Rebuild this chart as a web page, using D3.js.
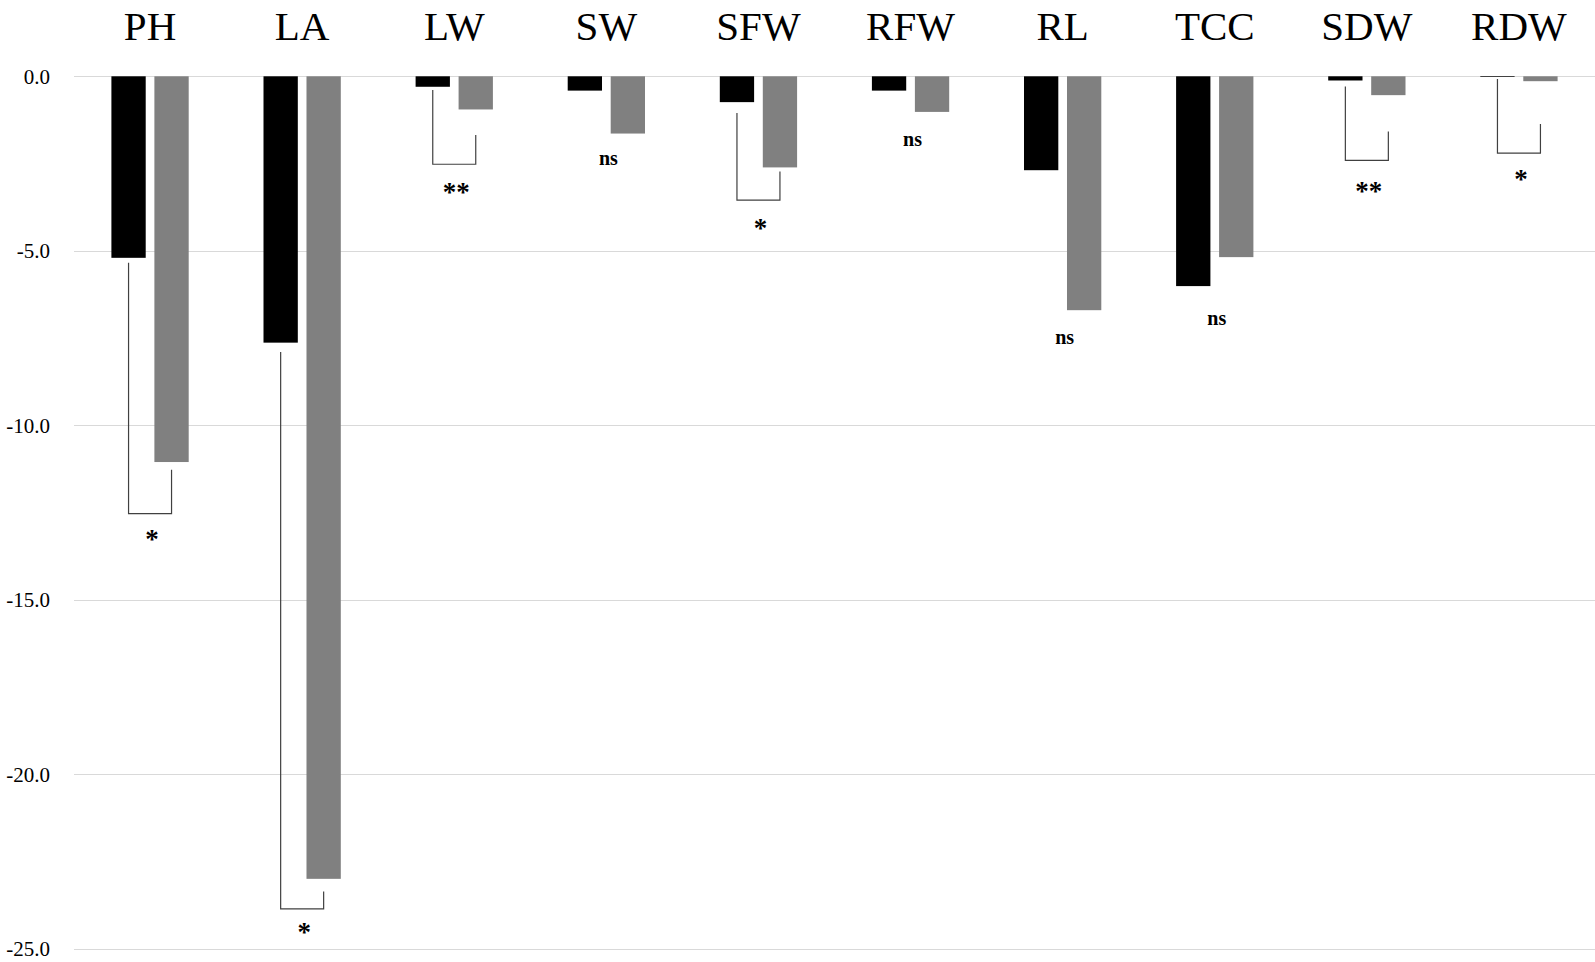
<!DOCTYPE html>
<html>
<head>
<meta charset="utf-8">
<script src="https://cdn.jsdelivr.net/npm/d3@7"></script>
<style>
  html, body { margin: 0; padding: 0; background: #fff; }
  svg { display: block; }
</style>
</head>
<body>
<svg id="chart" width="1595" height="962"></svg>
<script>
// ---- data ----
const categories = ["PH", "LA", "LW", "SW", "SFW", "RFW", "RL", "TCC", "SDW", "RDW"];
const seriesBlack = [-5.20, -7.63, -0.30, -0.41, -0.74, -0.41, -2.69, -6.01, -0.12, -0.02];
const seriesGray  = [-11.05, -22.99, -0.95, -1.64, -2.61, -1.02, -6.70, -5.18, -0.54, -0.14];
const yTicks = [0, -5, -10, -15, -20, -25];
const yTickLabels = ["0.0", "-5.0", "-10.0", "-15.0", "-20.0", "-25.0"];
// significance labels and their vertical placement (data units)
const sigLabels = ["*", "*", "**", "ns", "*", "ns", "ns", "ns", "**", "*"];
const sigLabelY = [-13.39, -24.65, -3.45, -2.53, -4.49, -2.00, -7.68, -7.13, -3.42, -3.08];
// brackets: [category, left leg top, right leg top, bottom] (data units)
const bracketCats   = ["PH", "LA", "LW", "SFW", "SDW", "RDW"];
const bracketLeft   = [-5.34, -7.90, -0.39, -1.05, -0.29, -0.08];
const bracketRight  = [-11.27, -23.35, -1.68, -2.73, -1.58, -1.37];
const bracketBottom = [-12.53, -23.85, -2.52, -3.55, -2.41, -2.20];

// ---- layout ----
const svg = d3.select("#chart");
const plotLeft = 74, plotRight = 1595, plotTop = 76.3, plotBottom = 949;
const serif = "'Liberation Serif', 'Times New Roman', serif";

const x = d3.scaleBand().domain(categories).range([plotLeft, plotRight]).paddingInner(0).paddingOuter(0);
const xs = d3.scaleBand().domain(["black", "gray"]).range([0, x.bandwidth()]).paddingInner(0.202).paddingOuter(0.87);
const y = d3.scaleLinear().domain([-25, 0]).range([plotBottom, plotTop]);

// gridlines
svg.append("g").selectAll("line").data(yTicks).join("line")
  .attr("x1", plotLeft).attr("x2", plotRight)
  .attr("y1", d => Math.round(y(d)) + 0.5).attr("y2", d => Math.round(y(d)) + 0.5)
  .attr("stroke", "#d9d9d9").attr("stroke-width", 1);

// y tick labels
svg.append("g").selectAll("text").data(yTicks).join("text")
  .attr("x", 50).attr("y", d => y(d))
  .attr("dy", "0.35em")
  .attr("text-anchor", "end")
  .attr("font-family", serif).attr("font-size", 21).attr("fill", "#000")
  .text((d, i) => yTickLabels[i]);

// category labels (top)
svg.append("g").selectAll("text").data(categories).join("text")
  .attr("x", d => x(d) + x.bandwidth() / 2).attr("y", 39.5)
  .attr("text-anchor", "middle")
  .attr("font-family", serif).attr("font-size", 41).attr("fill", "#000")
  .text(d => d);

// bars
const barData = [];
categories.forEach((c, i) => {
  barData.push({ c, s: "black", v: seriesBlack[i] });
  barData.push({ c, s: "gray", v: seriesGray[i] });
});
svg.append("g").selectAll("rect").data(barData).join("rect")
  .attr("x", d => x(d.c) + xs(d.s))
  .attr("width", xs.bandwidth())
  .attr("y", y(0))
  .attr("height", d => y(d.v) - y(0))
  .attr("fill", d => d.s === "black" ? "#000000" : "#808080");

// brackets
const bData = bracketCats.map((c, i) => ({ c, l: bracketLeft[i], r: bracketRight[i], b: bracketBottom[i] }));
svg.append("g").selectAll("path").data(bData).join("path")
  .attr("d", d => {
    const xl = x(d.c) + xs("black") + xs.bandwidth() / 2;
    const xr = x(d.c) + xs("gray") + xs.bandwidth() / 2;
    return `M${xl},${y(d.l)}V${y(d.b)}H${xr}V${y(d.r)}`;
  })
  .attr("fill", "none").attr("stroke", "#404040").attr("stroke-width", 1.2);

// significance labels
svg.append("g").selectAll("text").data(categories).join("text")
  .attr("x", (d) => x(d) + x.bandwidth() / 2 + 2)
  .attr("y", (d, i) => y(sigLabelY[i]))
  .attr("dy", (d, i) => sigLabels[i] === "ns" ? 0 : 4)
  .attr("text-anchor", "middle")
  .attr("font-family", serif)
  .attr("font-size", (d, i) => sigLabels[i] === "ns" ? 20 : 27)
  .attr("font-weight", "bold").attr("fill", "#000")
  .text((d, i) => sigLabels[i]);
</script>
</body>
</html>
